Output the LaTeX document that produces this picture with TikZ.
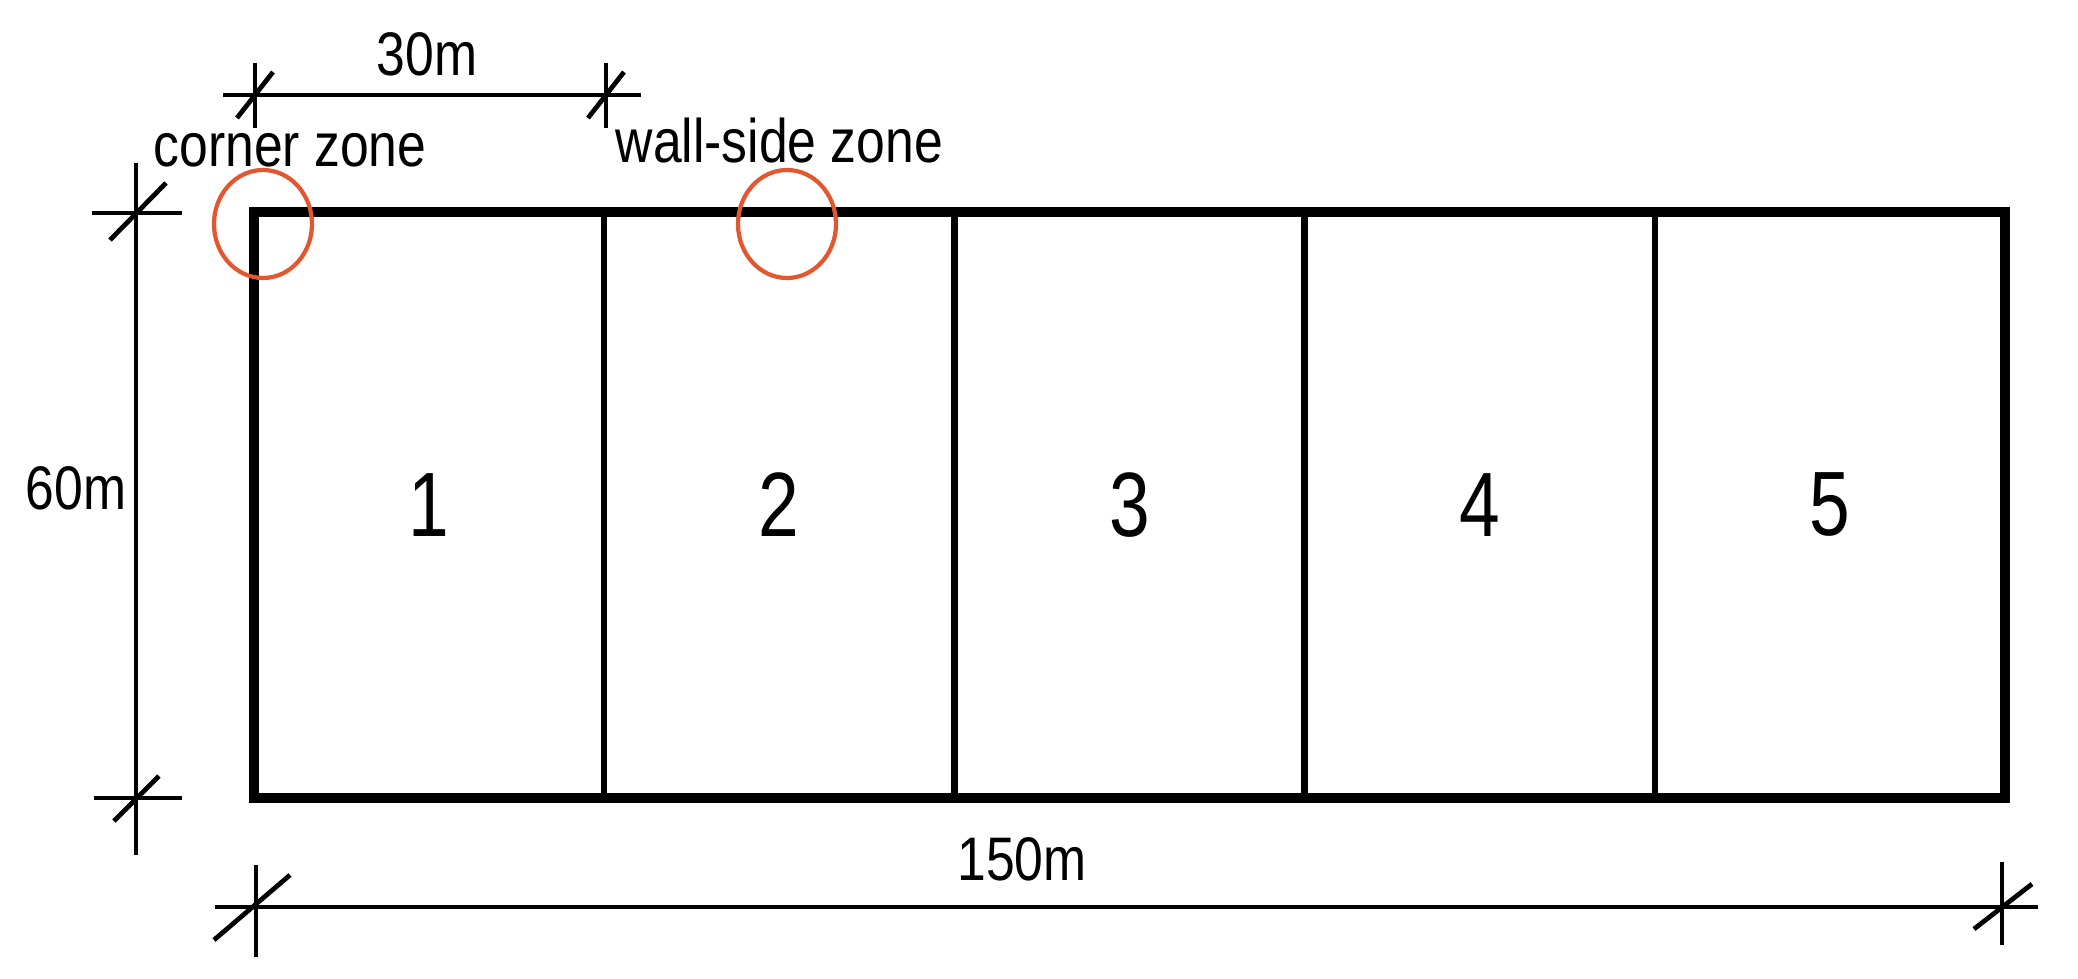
\documentclass[tikz,border=0pt]{standalone}
\usepackage{fontspec}
\setmainfont{Liberation Sans}[FakeStretch=0.84]
\newfontfamily\numfont{Liberation Sans}[FakeStretch=0.8]
\usetikzlibrary{shapes.geometric,calc}
\definecolor{zonered}{RGB}{226,86,48}
\begin{document}
\begin{tikzpicture}[
    cell/.style={draw, line width=1.8pt, rectangle, minimum width=3.502cm, minimum height=5.86cm, inner sep=0pt, outer sep=0pt, font=\numfont\fontsize{26}{30}\selectfont},
    zone/.style={draw=zonered, line width=1.2pt, ellipse, minimum width=0.98cm, minimum height=1.08cm, inner sep=0pt},
    dimline/.style={line width=1.05pt},
    slash/.style={line width=1.35pt},
    dimtext/.style={font=\fontsize{17.5}{21}\selectfont, inner sep=0pt}
]
    \useasboundingbox (0,0) rectangle (20.78,9.78);

    % Five zones of the plan
    \node[cell] (c1) at (4.291,4.73) {1};
    \node[cell] (c2) at (7.793,4.73) {2};
    \node[cell] (c3) at (11.295,4.73) {3};
    \node[cell] (c4) at (14.797,4.73) {4};
    \node[cell] (c5) at (18.299,4.73) {5};
    \draw[line width=2.8pt] (c1.north west) rectangle (c5.south east);

    % Marked zones
    \node[zone] (cornerzone) at (2.63,7.54) {};
    \node[zone] (wallzone) at (7.87,7.54) {};
    \node[dimtext, anchor=base west] (cornertext) at (1.53,8.11) {corner zone};
    \node[dimtext, anchor=base west] (walltext) at (6.15,8.15) {wall-side zone};

    % 30m dimension
    \coordinate (ta) at (2.23,8.83);
    \coordinate (tb) at (6.41,8.83);
    \coordinate (t1) at (2.55,8.83);
    \coordinate (t2) at (6.06,8.83);
    \draw[dimline] (ta) -- (tb);
    \draw[dimline] ($(t1)+(0,0.32)$) -- ($(t1)+(0,-0.33)$);
    \draw[dimline] ($(t2)+(0,0.32)$) -- ($(t2)+(0,-0.33)$);
    \draw[slash] ($(t1)+(-0.18,-0.23)$) -- ($(t1)+(0.18,0.23)$);
    \draw[slash] ($(t2)+(-0.18,-0.23)$) -- ($(t2)+(0.18,0.23)$);
    \node[dimtext, anchor=base] (len30) at (4.27,9.02) {30m};

    % 60m dimension
    \coordinate (la) at (1.36,8.15);
    \coordinate (lb) at (1.36,1.23);
    \coordinate (l1) at (1.36,7.65);
    \coordinate (l2) at (1.36,1.80);
    \draw[dimline] (la) -- (lb);
    \draw[dimline] ($(l1)+(-0.44,0)$) -- ($(l1)+(0.46,0)$);
    \draw[dimline] ($(l2)+(-0.42,0)$) -- ($(l2)+(0.46,0)$);
    \draw[slash] ($(l1)+(-0.26,-0.27)$) -- ($(l1)+(0.3,0.3)$);
    \draw[slash] ($(l2)+(-0.22,-0.23)$) -- ($(l2)+(0.23,0.22)$);
    \node[dimtext, anchor=base west] (len60) at (0.25,4.68) {60m};

    % 150m dimension
    \coordinate (ba) at (2.15,0.71);
    \coordinate (bb) at (20.38,0.71);
    \coordinate (b1) at (2.56,0.71);
    \coordinate (b2) at (20.02,0.71);
    \draw[dimline] (ba) -- (bb);
    \draw[dimline] ($(b1)+(0,0.42)$) -- ($(b1)+(0,-0.5)$);
    \draw[dimline] ($(b2)+(0,0.45)$) -- ($(b2)+(0,-0.38)$);
    \draw[slash] ($(b1)+(-0.42,-0.33)$) -- ($(b1)+(0.34,0.32)$);
    \draw[slash] ($(b2)+(-0.28,-0.22)$) -- ($(b2)+(0.3,0.23)$);
    \node[dimtext, anchor=base] (len150) at (10.22,0.98) {150m};
\end{tikzpicture}
\end{document}
